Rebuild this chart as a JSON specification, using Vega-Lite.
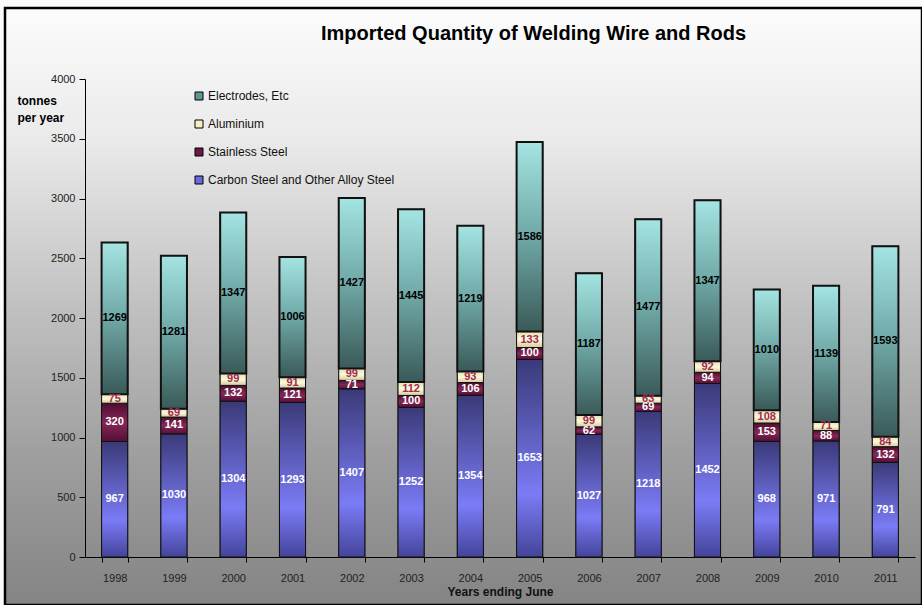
{
  "$schema": "https://vega.github.io/schema/vega-lite/v6.json",
  "width": 917,
  "height": 597,
  "autosize": {"type": "none"},
  "padding": {"left": 5, "top": 8, "right": 0, "bottom": 0},
  "background": "#fbfbfb",
  "view": {
    "fill": {"gradient": "linear", "x1": 0, "y1": 0, "x2": 0, "y2": 1, "stops": [
      {"offset": 0, "color": "#fcfcfc"},
      {"offset": 0.22, "color": "#eaeaea"},
      {"offset": 0.49, "color": "#c2c2c2"},
      {"offset": 0.74, "color": "#a0a0a0"},
      {"offset": 1, "color": "#848484"}
    ]},
    "stroke": "#000",
    "strokeWidth": 2.5
  },
  "title": {
    "text": "Imported Quantity of Welding Wire and Rods",
    "font": "Liberation Sans",
    "fontSize": 20,
    "fontWeight": "bold",
    "color": "#000",
    "anchor": "middle",
    "dx": 70,
    "offset": -52,
    "baseline": "alphabetic"
  },
  "data": {"values": [
    {"year": "1998", "series": "Carbon Steel and Other Alloy Steel", "k": 1, "value": 967},
    {"year": "1998", "series": "Stainless Steel", "k": 2, "value": 320},
    {"year": "1998", "series": "Aluminium", "k": 3, "value": 75},
    {"year": "1998", "series": "Electrodes, Etc", "k": 4, "value": 1269},
    {"year": "1999", "series": "Carbon Steel and Other Alloy Steel", "k": 1, "value": 1030},
    {"year": "1999", "series": "Stainless Steel", "k": 2, "value": 141},
    {"year": "1999", "series": "Aluminium", "k": 3, "value": 69},
    {"year": "1999", "series": "Electrodes, Etc", "k": 4, "value": 1281},
    {"year": "2000", "series": "Carbon Steel and Other Alloy Steel", "k": 1, "value": 1304},
    {"year": "2000", "series": "Stainless Steel", "k": 2, "value": 132},
    {"year": "2000", "series": "Aluminium", "k": 3, "value": 99},
    {"year": "2000", "series": "Electrodes, Etc", "k": 4, "value": 1347},
    {"year": "2001", "series": "Carbon Steel and Other Alloy Steel", "k": 1, "value": 1293},
    {"year": "2001", "series": "Stainless Steel", "k": 2, "value": 121},
    {"year": "2001", "series": "Aluminium", "k": 3, "value": 91},
    {"year": "2001", "series": "Electrodes, Etc", "k": 4, "value": 1006},
    {"year": "2002", "series": "Carbon Steel and Other Alloy Steel", "k": 1, "value": 1407},
    {"year": "2002", "series": "Stainless Steel", "k": 2, "value": 71},
    {"year": "2002", "series": "Aluminium", "k": 3, "value": 99},
    {"year": "2002", "series": "Electrodes, Etc", "k": 4, "value": 1427},
    {"year": "2003", "series": "Carbon Steel and Other Alloy Steel", "k": 1, "value": 1252},
    {"year": "2003", "series": "Stainless Steel", "k": 2, "value": 100},
    {"year": "2003", "series": "Aluminium", "k": 3, "value": 112},
    {"year": "2003", "series": "Electrodes, Etc", "k": 4, "value": 1445},
    {"year": "2004", "series": "Carbon Steel and Other Alloy Steel", "k": 1, "value": 1354},
    {"year": "2004", "series": "Stainless Steel", "k": 2, "value": 106},
    {"year": "2004", "series": "Aluminium", "k": 3, "value": 93},
    {"year": "2004", "series": "Electrodes, Etc", "k": 4, "value": 1219},
    {"year": "2005", "series": "Carbon Steel and Other Alloy Steel", "k": 1, "value": 1653},
    {"year": "2005", "series": "Stainless Steel", "k": 2, "value": 100},
    {"year": "2005", "series": "Aluminium", "k": 3, "value": 133},
    {"year": "2005", "series": "Electrodes, Etc", "k": 4, "value": 1586},
    {"year": "2006", "series": "Carbon Steel and Other Alloy Steel", "k": 1, "value": 1027},
    {"year": "2006", "series": "Stainless Steel", "k": 2, "value": 62},
    {"year": "2006", "series": "Aluminium", "k": 3, "value": 99},
    {"year": "2006", "series": "Electrodes, Etc", "k": 4, "value": 1187},
    {"year": "2007", "series": "Carbon Steel and Other Alloy Steel", "k": 1, "value": 1218},
    {"year": "2007", "series": "Stainless Steel", "k": 2, "value": 69},
    {"year": "2007", "series": "Aluminium", "k": 3, "value": 63},
    {"year": "2007", "series": "Electrodes, Etc", "k": 4, "value": 1477},
    {"year": "2008", "series": "Carbon Steel and Other Alloy Steel", "k": 1, "value": 1452},
    {"year": "2008", "series": "Stainless Steel", "k": 2, "value": 94},
    {"year": "2008", "series": "Aluminium", "k": 3, "value": 92},
    {"year": "2008", "series": "Electrodes, Etc", "k": 4, "value": 1347},
    {"year": "2009", "series": "Carbon Steel and Other Alloy Steel", "k": 1, "value": 968},
    {"year": "2009", "series": "Stainless Steel", "k": 2, "value": 153},
    {"year": "2009", "series": "Aluminium", "k": 3, "value": 108},
    {"year": "2009", "series": "Electrodes, Etc", "k": 4, "value": 1010},
    {"year": "2010", "series": "Carbon Steel and Other Alloy Steel", "k": 1, "value": 971},
    {"year": "2010", "series": "Stainless Steel", "k": 2, "value": 88},
    {"year": "2010", "series": "Aluminium", "k": 3, "value": 71},
    {"year": "2010", "series": "Electrodes, Etc", "k": 4, "value": 1139},
    {"year": "2011", "series": "Carbon Steel and Other Alloy Steel", "k": 1, "value": 791},
    {"year": "2011", "series": "Stainless Steel", "k": 2, "value": 132},
    {"year": "2011", "series": "Aluminium", "k": 3, "value": 84},
    {"year": "2011", "series": "Electrodes, Etc", "k": 4, "value": 1593}
  ]},
  "encoding": {
    "x": {
      "field": "year",
      "type": "ordinal",
      "scale": {"range": [80, 910], "paddingInner": 0.56, "paddingOuter": 0.28},
      "axis": {
        "offset": -48,
        "tickBand": "extent",
        "tickSize": 5,
        "tickColor": "#000",
        "domainColor": "#000",
        "labelAngle": 0,
        "labelFont": "Liberation Sans",
        "labelFontSize": 11,
        "labelColor": "#222",
        "labelPadding": 10,
        "title": "Years ending June",
        "titleFont": "Liberation Sans",
        "titleFontSize": 12,
        "titleFontWeight": "bold",
        "titleColor": "#111",
        "titlePadding": 3
      }
    },
    "y": {
      "field": "value",
      "type": "quantitative",
      "stack": "zero",
      "scale": {"domain": [0, 4000], "range": [549, 71], "nice": false, "zero": true},
      "axis": {
        "values": [0, 500, 1000, 1500, 2000, 2500, 3000, 3500, 4000],
        "format": "d",
        "grid": false,
        "offset": -80,
        "domainColor": "#000",
        "tickColor": "#000",
        "tickSize": 6,
        "labelFont": "Liberation Sans",
        "labelFontSize": 11,
        "labelColor": "#222",
        "labelPadding": 4,
        "title": ["tonnes", "per year"],
        "titleFont": "Liberation Sans",
        "titleFontSize": 12,
        "titleFontWeight": "bold",
        "titleColor": "#000",
        "titleAngle": 0,
        "titleAlign": "left",
        "titleBaseline": "alphabetic",
        "titleX": -68,
        "titleY": 96,
        "titleLineHeight": 17
      }
    },
    "order": {"field": "k", "type": "quantitative"}
  },
  "layer": [
    {
      "mark": {"type": "bar", "stroke": "#111", "strokeWidth": 1},
      "encoding": {
        "color": {
          "field": "series",
          "type": "nominal",
          "scale": {
            "domain": ["Electrodes, Etc", "Aluminium", "Stainless Steel", "Carbon Steel and Other Alloy Steel"],
            "range": ["#5e9896", "#f4f0c4", "#6e1844", "#6a6ae0"]
          },
          "legend": {
            "orient": "none",
            "legendX": 188,
            "legendY": 82,
            "direction": "vertical",
            "title": null,
            "symbolType": "square",
            "symbolSize": 64,
            "symbolStrokeColor": "#000",
            "symbolStrokeWidth": 1,
            "labelFont": "Liberation Sans",
            "labelFontSize": 12,
            "labelColor": "#111",
            "labelOffset": 3,
            "labelLimit": 400,
            "rowPadding": 16
          }
        }
      }
    },
    {
      "mark": {"type": "bar", "stroke": "#111"},
      "encoding": {
        "fill": {
          "condition": [
            {"test": "datum.series === 'Electrodes, Etc'", "value": {"gradient": "linear", "x1": 0, "y1": 0, "x2": 0, "y2": 1, "stops": [
              {"offset": 0, "color": "#a4e4e2"},
              {"offset": 0.5, "color": "#6fa8a6"},
              {"offset": 1, "color": "#3a5a58"}
            ]}},
            {"test": "datum.series === 'Aluminium'", "value": {"gradient": "linear", "x1": 0, "y1": 0, "x2": 0, "y2": 1, "stops": [
              {"offset": 0, "color": "#e6dfae"},
              {"offset": 0.5, "color": "#fbf8dc"},
              {"offset": 1, "color": "#d6cd9c"}
            ]}},
            {"test": "datum.series === 'Stainless Steel'", "value": {"gradient": "linear", "x1": 0, "y1": 0, "x2": 0, "y2": 1, "stops": [
              {"offset": 0, "color": "#4e0c30"},
              {"offset": 0.5, "color": "#862858"},
              {"offset": 1, "color": "#560e36"}
            ]}}
          ],
          "value": {"gradient": "linear", "x1": 0, "y1": 0, "x2": 0, "y2": 1, "stops": [
            {"offset": 0, "color": "#3a3a78"},
            {"offset": 0.68, "color": "#7b7bf6"},
            {"offset": 1, "color": "#44449a"}
          ]}
        },
        "strokeWidth": {
          "condition": {"test": "datum.series === 'Electrodes, Etc'", "value": 2},
          "value": 1
        }
      }
    },
    {
      "mark": {"type": "text", "font": "Liberation Sans", "fontSize": 11, "fontWeight": "bold", "baseline": "middle", "align": "center"},
      "encoding": {
        "y": {"field": "value", "type": "quantitative", "stack": "zero", "bandPosition": 0.5},
        "text": {"field": "value", "type": "quantitative"},
        "color": {
          "condition": [
            {"test": "datum.series === 'Electrodes, Etc'", "value": "#000"},
            {"test": "datum.series === 'Aluminium'", "value": "#a02c52"}
          ],
          "value": "#ffffff"
        }
      }
    }
  ]
}
